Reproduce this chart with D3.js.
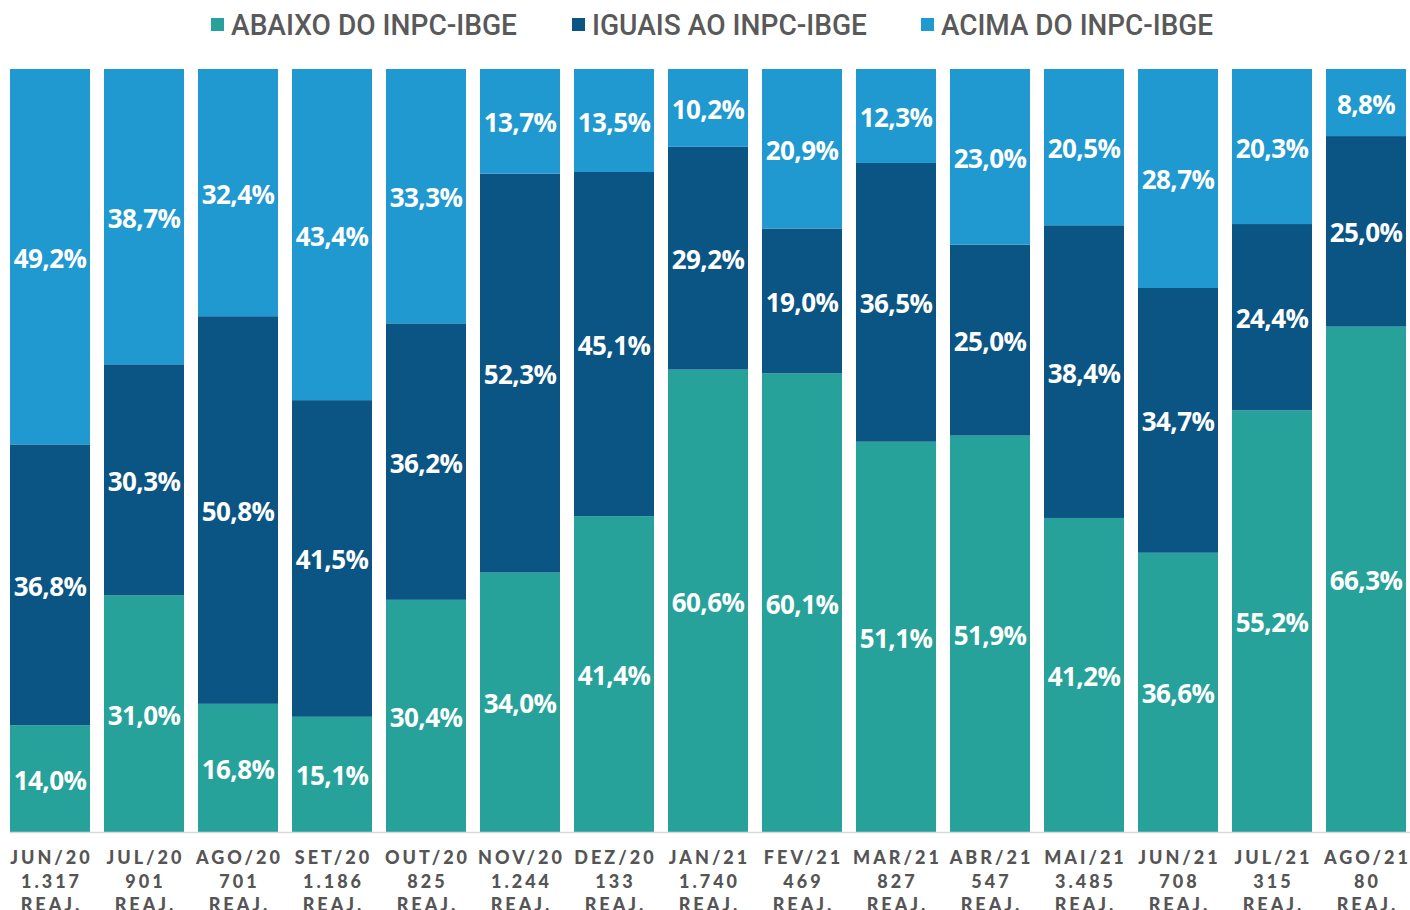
<!DOCTYPE html>
<html><head><meta charset="utf-8">
<script src="https://cdn.jsdelivr.net/npm/d3@7"></script>
<style>
html,body{margin:0;padding:0;background:#fff;}
svg{display:block;}
</style></head>
<body>
<svg id="chart" width="1410" height="910"></svg>
<script>
const months = ["JUN/20","JUL/20","AGO/20","SET/20","OUT/20","NOV/20","DEZ/20","JAN/21","FEV/21","MAR/21","ABR/21","MAI/21","JUN/21","JUL/21","AGO/21"];
const counts = ["1.317","901","701","1.186","825","1.244","133","1.740","469","827","547","3.485","708","315","80"];
const abaixo = [14.0,31.0,16.8,15.1,30.4,34.0,41.4,60.6,60.1,51.1,51.9,41.2,36.6,55.2,66.3];
const iguais = [36.8,30.3,50.8,41.5,36.2,52.3,45.1,29.2,19.0,36.5,25.0,38.4,34.7,24.4,25.0];
const acima  = [49.2,38.7,32.4,43.4,33.3,13.7,13.5,10.2,20.9,12.3,23.0,20.5,28.7,20.3,8.8];
const seriesNames = ["ABAIXO DO INPC-IBGE","IGUAIS AO INPC-IBGE","ACIMA DO INPC-IBGE"];
const seriesKeys = ["abaixo","iguais","acima"];
const colors = ["#26A29A","#0B5584","#1F99D0"];

const rows = months.map((m,i)=>({month:m, abaixo:abaixo[i], iguais:iguais[i], acima:acima[i]}));
const svg = d3.select("#chart");

const x = d3.scaleBand().domain(months).range([3,1413]).paddingInner(14/94).paddingOuter(7/94);
const y = d3.scaleLinear().domain([0,1]).range([832,69]);
const color = d3.scaleOrdinal().domain(seriesKeys).range(colors);

const stacked = d3.stack().keys(seriesKeys).offset(d3.stackOffsetExpand)(rows);

const g = svg.append("g");
stacked.forEach((layer,li)=>{
  const lg = g.append("g").attr("fill", color(layer.key));
  lg.selectAll("rect").data(layer).join("rect")
    .attr("x", d=>x(d.data.month))
    .attr("width", x.bandwidth())
    .attr("y", d=>y(d[1]))
    .attr("height", d=>y(d[0])-y(d[1]));
});
stacked.forEach((layer,li)=>{
  g.append("g").selectAll("text").data(layer).join("text")
    .attr("x", d=>x(d.data.month)+x.bandwidth()/2)
    .attr("y", d=>(y(d[0])+y(d[1]))/2+1)
    .attr("text-anchor","middle")
    .attr("dominant-baseline","central")
    .attr("fill","#fff")
    .style("font-family","'Open Sans', sans-serif")
    .style("font-weight","700")
    .style("font-size","26px")
    .style("letter-spacing","-0.6px")
    .text(d=>d.data[layer.key].toFixed(1).replace(".",",")+"%");
});

// x axis
const axis = svg.append("g").attr("transform","translate(0,832)")
  .call(d3.axisBottom(x).tickSize(0).tickFormat(""));
axis.select(".domain").attr("stroke","#d9d9d9").attr("stroke-width",1.5).attr("d","M10,0.5H1410");
axis.selectAll(".tick text").remove();
const ticks = axis.selectAll(".tick");
ticks.each(function(m,i){
  const t = d3.select(this).append("text")
    .attr("text-anchor","middle")
    .attr("fill","#555")
    .style("font-family","Lato, sans-serif")
    .style("font-weight","900")
    .style("font-size","18px")
    .style("letter-spacing","3px");
  const idx = months.indexOf(m);
  [m, counts[idx], "REAJ."].forEach((s,k)=>{
    t.append("tspan").attr("x",1.5).attr("y",32+k*23.5).text(s);
  });
});

// legend
const legendX = [211,572,921];
const legendW = [286,275,272];
const leg = svg.append("g");
seriesNames.forEach((n,i)=>{
  leg.append("rect").attr("x",legendX[i]).attr("y",18).attr("width",13).attr("height",13).attr("fill",colors[i]);
  leg.append("text").attr("x",legendX[i]+20).attr("y",35)
    .attr("fill","#595959")
    .attr("textLength",legendW[i]).attr("lengthAdjust","spacingAndGlyphs")
    .style("font-family","Roboto, sans-serif")
    .style("font-weight","500")
    .style("font-size","29px")
    .text(n);
});
</script>
</body></html>
